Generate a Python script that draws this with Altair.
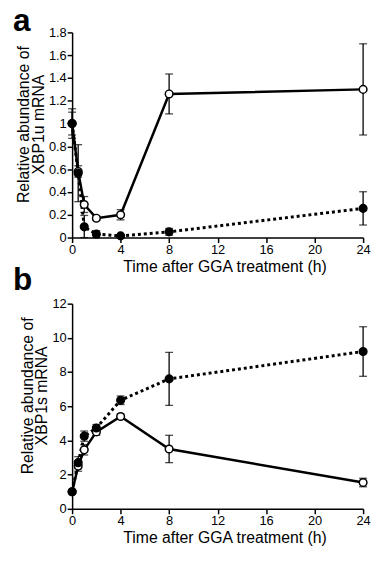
import altair as alt
import pandas as pd

panel_labels = ["a", "b"]
time = [0, 0.5, 1, 2, 4, 8, 24]

a_open = [1.0, 0.58, 0.29, 0.17, 0.2, 1.26, 1.3]
a_open_err = [0.13, 0.05, 0.07, 0.02, 0.045, 0.175, 0.4]
a_filled = [1.0, 0.565, 0.094, 0.03, 0.015, 0.05, 0.256]
a_filled_err = [0.1, 0.25, 0.1, 0.03, 0.01, 0.03, 0.146]

b_open = [1.0, 2.5, 3.45, 4.5, 5.4, 3.5, 1.54]
b_open_err = [0.1, 0.3, 0.3, 0.2, 0.15, 0.8, 0.25]
b_filled = [1.0, 2.7, 4.25, 4.73, 6.35, 7.6, 9.2]
b_filled_err = [0.1, 0.35, 0.3, 0.2, 0.25, 1.55, 1.45]

x_ticks = [0, 4, 8, 12, 16, 20, 24]
a_ticks = [0, 0.2, 0.4, 0.6, 0.8, 1.0, 1.2, 1.4, 1.6, 1.8]
b_ticks = [0, 2, 4, 6, 8, 10, 12]

x_title = "Time after GGA treatment (h)"
a_title = ["Relative abundance of", "XBP1u mRNA"]
b_title = ["Relative abundance of", "XBP1s mRNA"]

FONT = "Liberation Sans"
W, H = 295, 208


def frame(vals, errs, series):
    return pd.DataFrame({
        "t": time,
        "v": vals,
        "lo": [max(0, v - e) for v, e in zip(vals, errs)],
        "hi": [v + e for v, e in zip(vals, errs)],
        "s": series,
    })


def panel(letter, letter_y, open_v, open_e, fill_v, fill_e, ymax, yticks, ytitle):
    d_open = frame(open_v, open_e, "open")
    d_fill = frame(fill_v, fill_e, "filled")
    xaxis = alt.Axis(values=x_ticks, title=x_title, format="~f", titleX=W / 2 + 7,
                     labelOverlap=False, labelFlush=False)
    yaxis = alt.Axis(values=yticks, title=ytitle, format="~f", titleY=H / 2 - 11,
                     labelOverlap=False, labelFlush=False)
    xs = alt.Scale(domain=[0, 24], nice=False)
    ys = alt.Scale(domain=[0, ymax], nice=False)

    def X():
        return alt.X("t:Q", scale=xs, axis=xaxis)

    def Y(field):
        return alt.Y(f"{field}:Q", scale=ys, axis=yaxis)

    def layers(d, dotted, filled):
        base = alt.Chart(d)
        rule = base.mark_rule(color="black", strokeWidth=1.3).encode(x=X(), y=Y("lo"), y2="hi:Q")
        cap_lo = base.mark_tick(color="black", orient="horizontal", size=8, thickness=1.3).encode(x=X(), y=Y("lo"))
        cap_hi = base.mark_tick(color="black", orient="horizontal", size=8, thickness=1.3).encode(x=X(), y=Y("hi"))
        if dotted:
            line = base.mark_line(color="black", strokeWidth=3, strokeDash=[3, 3]).encode(x=X(), y=Y("v"))
        else:
            line = base.mark_line(color="black", strokeWidth=2.5).encode(x=X(), y=Y("v"))
        pts = base.mark_point(shape="circle", size=60, filled=True,
                              fill="black" if filled else "white",
                              stroke="black", strokeWidth=1.5, opacity=1).encode(x=X(), y=Y("v"))
        return [rule, cap_lo, cap_hi, line], pts

    l_fill, p_fill = layers(d_fill, True, True)
    l_open, p_open = layers(d_open, False, False)
    lab = alt.Chart(pd.DataFrame({"label": [letter]})).mark_text(
        font=FONT, fontSize=32, fontWeight="bold", color="black", align="left",
        baseline="alphabetic").encode(text="label:N", x=alt.value(-60), y=alt.value(letter_y))
    return alt.layer(*l_fill, *l_open, p_open, p_fill, lab).properties(width=W, height=H)


pa = panel(panel_labels[0], -1, a_open, a_open_err, a_filled, a_filled_err, 1.8, a_ticks, a_title)
pb = panel(panel_labels[1], -14, b_open, b_open_err, b_filled, b_filled_err, 12, b_ticks, b_title)

chart = alt.vconcat(pa, pb, spacing=67, bounds="flush").configure(
    padding={"left": 5, "top": -6, "right": 0, "bottom": 0}).configure_view(
    stroke=None).configure_axis(
    domainColor="black", domainWidth=1.5, tickColor="black", tickWidth=1.5, tickSize=5,
    labelColor="black", labelFont=FONT, labelFontSize=13, titleColor="black",
    titleFont=FONT, titleFontSize=16, titleFontWeight="normal", titleLineHeight=15,
    grid=False, labelPadding=1, titlePadding=2,
)

chart.save("out.html", embed_options={"renderer": "svg", "actions": False})
